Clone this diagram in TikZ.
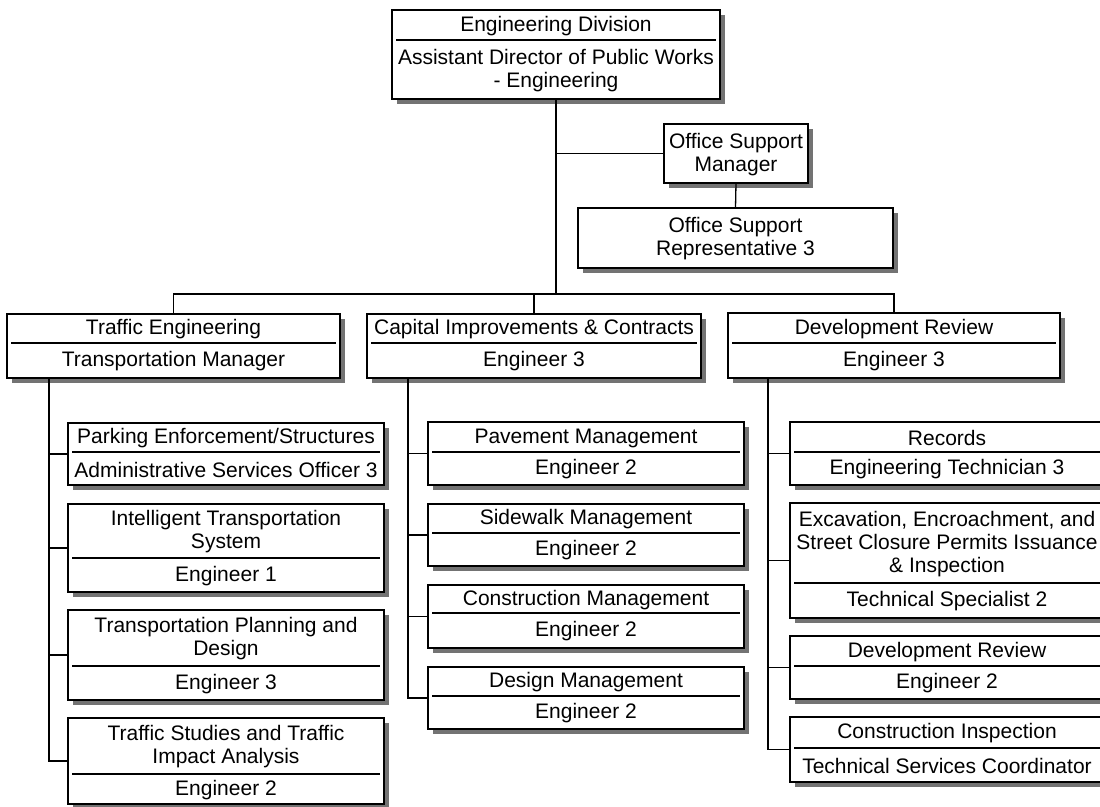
\documentclass[tikz,border=0pt]{standalone}
\usepackage{fontspec}
\setmainfont{Liberation Sans}
\begin{document}
\begin{tikzpicture}[x=1pt,y=-1pt,
  orgframe/.style={draw=black, line width=1.8pt, fill=white, rectangle, inner sep=0pt, outer sep=0pt},
  boxshadow/.style={fill=black!55},
  divline/.style={draw=black, line width=1.5pt},
  boxtext/.style={align=center, inner sep=0pt, font=\fontsize{21}{23}\selectfont},
  link/.style={draw=black, line width=1.3pt}]
\clip (0,0) rectangle (1100,806);
\fill[white] (0,0) rectangle (1100,806);

% box with title, divider and position line
% #1 name, #2 x1, #3 y1, #4 x2, #5 y2, #6 divider y, #7 title, #8 position
\newcommand\orgbox[8]{%
  \pgfmathsetmacro\bw{#4-#2}\pgfmathsetmacro\bh{#5-#3}%
  \pgfmathsetmacro\cx{(#2+#4)/2}%
  \pgfmathsetmacro\ty{(#3+#6)/2+1}\pgfmathsetmacro\by{(#6+#5)/2+1}%
  \fill[boxshadow] (#2+5,#3+5) rectangle (#4+5,#5+5);
  \node[orgframe, minimum width=\bw pt, minimum height=\bh pt, anchor=north west] (#1) at (#2,#3) {};
  \draw[divline] (#2+4,#6) -- (#4-4,#6);
  \node[boxtext] (#1-t) at (\cx,\ty) {#7};
  \node[boxtext] (#1-b) at (\cx,\by) {#8};
}
% box with a single text block
\newcommand\plainbox[6]{%
  \pgfmathsetmacro\bw{#4-#2}\pgfmathsetmacro\bh{#5-#3}%
  \pgfmathsetmacro\cx{(#2+#4)/2}\pgfmathsetmacro\cy{(#3+#5)/2+1}%
  \fill[boxshadow] (#2+5,#3+5) rectangle (#4+5,#5+5);
  \node[orgframe, minimum width=\bw pt, minimum height=\bh pt, anchor=north west] (#1) at (#2,#3) {};
  \node[boxtext] (#1-t) at (\cx,\cy) {#6};
}

% points where the reporting lines run
\coordinate (bar) at (0,294);
\coordinate (tetrunk) at (49,378);
\coordinate (captrunk) at (408,378);
\coordinate (drtrunk) at (768,378);

% top level
\orgbox{top}{392}{10}{720}{99}{40}{Engineering Division}{Assistant Director of Public Works\\- Engineering}
\plainbox{osm}{664}{124}{808}{183}{Office Support\\Manager}
\plainbox{osr}{578}{208}{893}{268}{Office Support\\Representative 3}

% sections
\orgbox{te}{7}{314}{340}{378}{343}{Traffic Engineering}{Transportation Manager}
\orgbox{cap}{367}{314}{701}{378}{343}{Capital Improvements \& Contracts}{Engineer 3}
\orgbox{dr}{728}{313}{1060}{378}{343}{Development Review}{Engineer 3}

% traffic engineering units
\orgbox{pe}{68}{423}{384}{485}{452}{Parking Enforcement/Structures}{Administrative Services Officer 3}
\orgbox{its}{68}{504}{384}{592}{558}{Intelligent Transportation\\System}{Engineer 1}
\orgbox{tpd}{68}{610}{384}{700}{666}{Transportation Planning and\\Design}{Engineer 3}
\orgbox{tsa}{68}{718}{384}{804}{774}{Traffic Studies and Traffic\\Impact Analysis}{Engineer 2}

% capital improvements units
\orgbox{pm}{428}{422}{744}{485}{452}{Pavement Management}{Engineer 2}
\orgbox{sm}{428}{504}{744}{566}{533}{Sidewalk Management}{Engineer 2}
\orgbox{cm}{428}{585}{744}{648}{613}{Construction Management}{Engineer 2}
\orgbox{dm}{428}{667}{744}{729}{696}{Design Management}{Engineer 2}

% development review units
\orgbox{rec}{790}{422}{1104}{485}{452}{Records}{Engineering Technician 3}
\orgbox{exc}{790}{503}{1104}{618}{583}{Excavation, Encroachment, and\\Street Closure Permits Issuance\\\& Inspection}{Technical Specialist 2}
\orgbox{dr2}{790}{636}{1104}{699}{666}{Development Review}{Engineer 2}
\orgbox{ci}{790}{717}{1104}{782}{748}{Construction Inspection}{Technical Services Coordinator}

% reporting lines
\draw[link] (top.south) -- (top.south |- bar);
\draw[link] (top.south |- osm.west) -- (osm.west);
\draw[link] (osm.south) -- (osr.north);
\draw[link] (te.north) -- (te.north |- bar) -- (dr.north |- bar) -- (dr.north);
\draw[link] (cap.north) -- (cap.north |- bar);

\draw[link] (tetrunk) |- (tsa.west);
\draw[link] (tetrunk |- pe.west) -- (pe.west);
\draw[link] (tetrunk |- its.west) -- (its.west);
\draw[link] (tetrunk |- tpd.west) -- (tpd.west);

\draw[link] (captrunk) |- (dm.west);
\draw[link] (captrunk |- pm.west) -- (pm.west);
\draw[link] (captrunk |- sm.west) -- (sm.west);
\draw[link] (captrunk |- cm.west) -- (cm.west);

\draw[link] (drtrunk) |- (ci.west);
\draw[link] (drtrunk |- rec.west) -- (rec.west);
\draw[link] (drtrunk |- exc.west) -- (exc.west);
\draw[link] (drtrunk |- dr2.west) -- (dr2.west);
\end{tikzpicture}
\end{document}
